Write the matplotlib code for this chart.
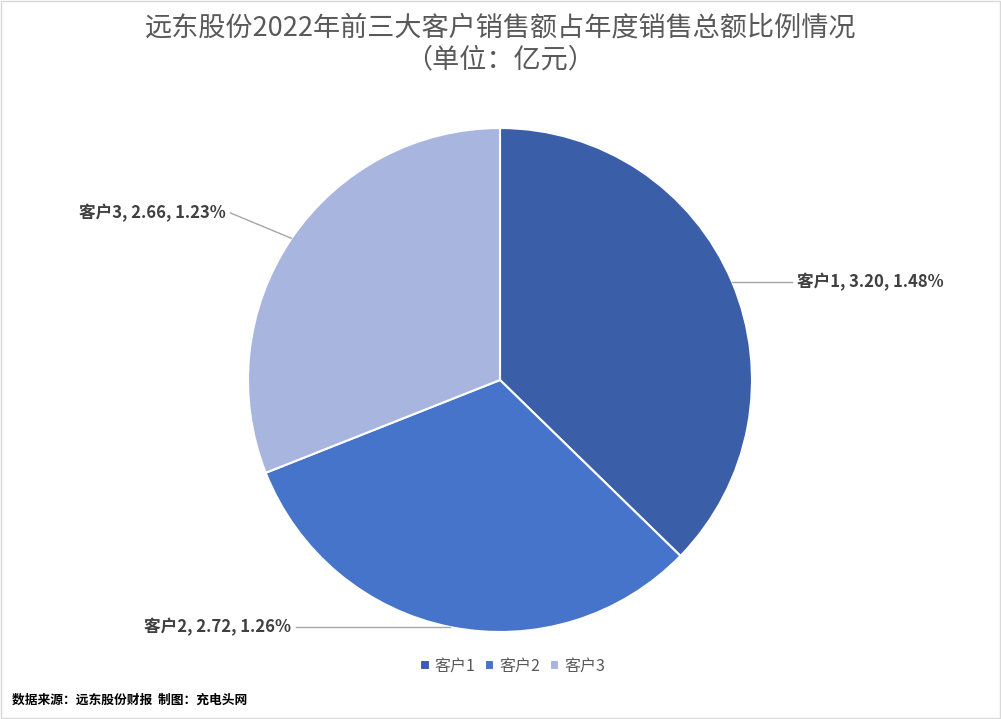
import numpy as np
import matplotlib.pyplot as plt
from matplotlib.patches import Rectangle

plt.rcParams['font.family'] = ['Noto Sans CJK SC', 'DejaVu Sans']

# data
customers = ['客户1', '客户2', '客户3']
sales = [3.20, 2.72, 2.66]
share_pct = ['1.48%', '1.26%', '1.23%']
colors = ['#3B5EA8', '#4674CB', '#A8B5DF']

fig = plt.figure(figsize=(10.01, 7.19), dpi=100)
fig.patches.append(Rectangle((0.001, 0.001), 0.998, 0.997, transform=fig.transFigure,
                             fill=False, edgecolor='#D9D9D9', linewidth=1))

ax = fig.add_axes([248/1001, 87/719, 504/1001, 504/719])
wedges, _ = ax.pie(sales, colors=colors, startangle=90, counterclock=False, radius=1,
                   wedgeprops=dict(edgecolor='white', linewidth=1.5))
ax.set_xlim(-1, 1)
ax.set_ylim(-1, 1)
ax.axis('off')

# label placement: (text x, text y or None -> same as anchor, ha)
label_pos = [(1.18, None, 'left'), (-0.83, None, 'right'), (-1.09, 0.663, 'right')]
for w, name, v, p, (tx, ty, ha) in zip(wedges, customers, sales, share_pct, label_pos):
    mid = np.deg2rad((w.theta1 + w.theta2) / 2)
    axp, ayp = np.cos(mid), np.sin(mid)
    if ty is None:
        ty = ayp
    lx = tx - 0.02 if ha == 'left' else tx + 0.02
    ax.plot([axp, lx], [ayp, ty], color='#A6A6A6', lw=1, clip_on=False)
    ax.text(tx, ty, f'{name}, {v:.2f}, {p}', ha=ha, va='center', fontsize=12,
            fontweight='bold', color='#404040', clip_on=False)

fig.text(0.5, 1 - 28/719, '远东股份2022年前三大客户销售额占年度销售总额比例情况',
         ha='center', va='center', fontsize=19.5, color='#595959')
fig.text(0.5, 1 - 60/719, '（单位：亿元）', ha='center', va='center', fontsize=19.5, color='#595959')

leg = fig.legend(wedges, customers, loc='center', bbox_to_anchor=(0.512, 1 - 666/719),
                 ncol=3, frameon=False, fontsize=11.5, handlelength=0.6, handleheight=0.6,
                 handletextpad=0.3, columnspacing=0.6)
for t in leg.get_texts():
    t.set_color('#595959')

fig.text(12/1001, 1 - 700/719, '数据来源：远东股份财报  制图：充电头网', ha='left', va='center',
         fontsize=9.2, fontweight='bold', color='black')

fig.savefig('out.png', dpi=100)
